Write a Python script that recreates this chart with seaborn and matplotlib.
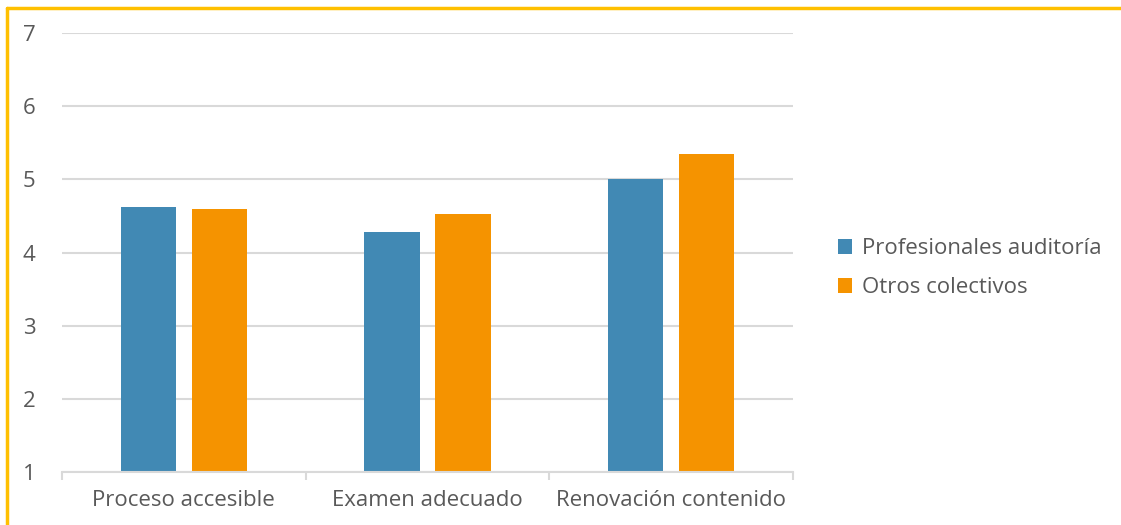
import matplotlib
matplotlib.use("Agg")
import matplotlib.pyplot as plt
import seaborn as sns
import pandas as pd
from matplotlib.patches import Patch
from matplotlib.lines import Line2D

categories = ["Proceso accesible", "Examen adecuado", "Renovación contenido"]
series_names = ["Profesionales auditoría", "Otros colectivos"]
profesionales = [4.62, 4.28, 5.01]
otros = [4.60, 4.52, 5.34]
y_ticks = [1, 2, 3, 4, 5, 6, 7]

colors = ["#4189B4", "#F59300"]

df = pd.DataFrame({
    "categoria": categories * 2,
    "grupo": [series_names[0]] * 3 + [series_names[1]] * 3,
    "valor": profesionales + otros,
})

sns.set_theme(style="white")
plt.rcParams["font.family"] = ["Open Sans", "DejaVu Sans"]

fig = plt.figure(figsize=(11.21, 5.25), dpi=100)
ax = fig.add_axes([62 / 1121, 1 - 472 / 525, (793 - 62) / 1121, (472 - 33) / 525])

sns.barplot(data=df, x="categoria", y="valor", hue="grupo", palette=colors,
            width=0.583, gap=0.225, ax=ax, legend=False, saturation=1,
            linewidth=0)

ax.set_ylim(1, 7)
ax.set_xlim(-0.5, 2.5)
ax.set_yticks(y_ticks)
ax.set_yticklabels([str(t) for t in y_ticks])
ax.yaxis.grid(True, color="#D9D9D9", linewidth=1.5)
ax.set_axisbelow(True)
for side in ["left", "right", "top"]:
    ax.spines[side].set_visible(False)
ax.spines["bottom"].set_color("#D9D9D9")
ax.spines["bottom"].set_linewidth(1.5)
ax.set_xlabel("")
ax.set_ylabel("")
ax.tick_params(axis="y", length=0, pad=19, labelsize=16, labelcolor="#595959")
ax.tick_params(axis="x", which="major", length=0, pad=13, labelsize=16, labelcolor="#595959")
ax.set_xticks([-0.5, 0.5, 1.5, 2.5], minor=True)
ax.tick_params(axis="x", which="minor", length=6, width=1.5, color="#D9D9D9", bottom=True)

handles = [Patch(facecolor=c, edgecolor="none") for c in colors]
fig.legend(handles, series_names, loc="center left", bbox_to_anchor=(818 / 1121, 1 - 268 / 525),
           frameon=False, fontsize=16, labelcolor="#595959", handlelength=0.65,
           handleheight=0.65, handletextpad=0.45, labelspacing=0.8)

# Frame lines along the top and left edges
fig.add_artist(Line2D([6.5 / 1121, 1], [1 - 7.5 / 525] * 2, transform=fig.transFigure,
                      color="#FFC000", linewidth=2.5))
fig.add_artist(Line2D([6.5 / 1121] * 2, [0, 1 - 7.5 / 525], transform=fig.transFigure,
                      color="#FFC000", linewidth=2.5))

fig.savefig("out.png", dpi=100, facecolor="white")
